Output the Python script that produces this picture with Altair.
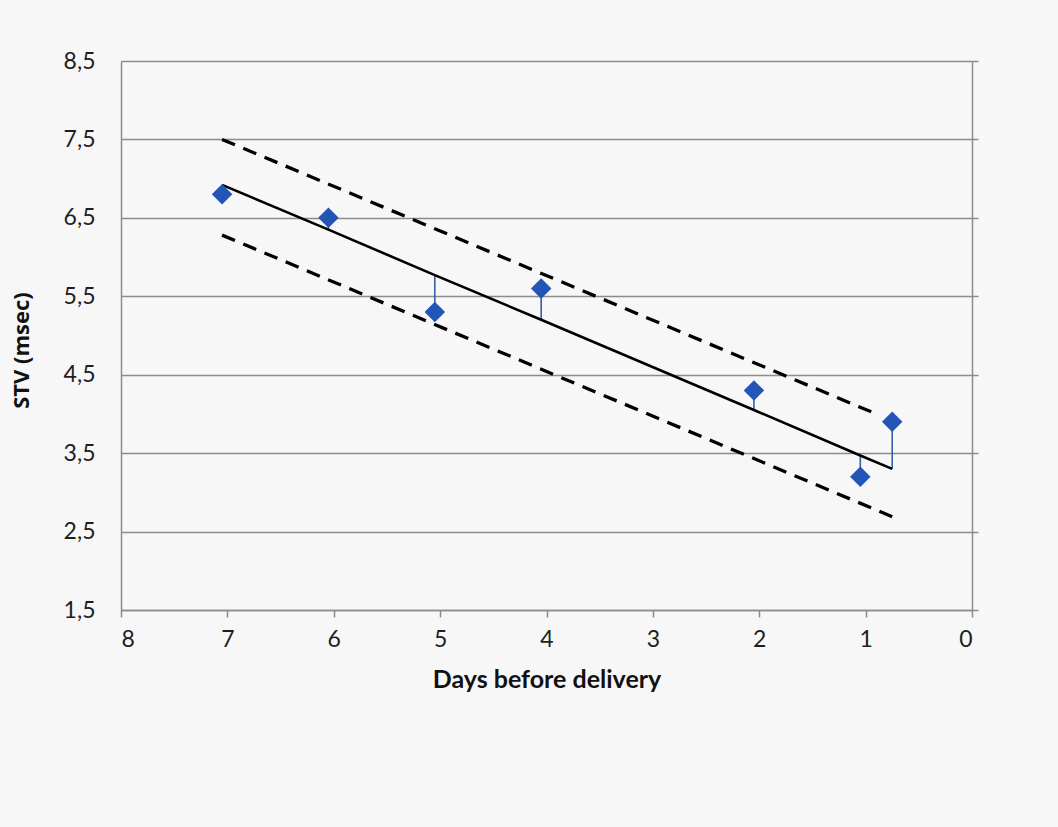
import altair as alt
import pandas as pd

# Data
days = [7.05, 6.05, 5.05, 4.05, 2.05, 1.05, 0.75]
stv = [6.8, 6.5, 5.3, 5.6, 4.3, 3.2, 3.9]
fitted = [6.92, 6.35, 5.77, 5.2, 4.05, 3.47, 3.30]

upper_days = [7.05, 0.9]
upper_stv = [7.5, 4.0]
lower_days = [7.05, 0.75]
lower_stv = [6.28, 2.69]

y_ticks = [1.5, 2.5, 3.5, 4.5, 5.5, 6.5, 7.5, 8.5]
x_ticks = [0, 1, 2, 3, 4, 5, 6, 7, 8]

pts = pd.DataFrame({"days": days, "stv": stv, "fit": fitted})
upper = pd.DataFrame({"days": upper_days, "stv": upper_stv})
lower = pd.DataFrame({"days": lower_days, "stv": lower_stv})

FONT = "Lato"
GRID = "#8c8c8c"
LABEL = "#1e1e1e"

xs = alt.Scale(domain=[8, 0], nice=False, zero=False)
ys = alt.Scale(domain=[1.5, 8.5], nice=False, zero=False)

x_axis = alt.Axis(
    values=x_ticks, title="Days before delivery", grid=False,
    domainColor=GRID, domainWidth=1.5, tickColor=GRID, tickWidth=1.5, tickSize=7,
    labelFont=FONT, labelFontSize=23, labelColor=LABEL, labelPadding=11,
    titleFont=FONT, titleFontSize=25, titleFontWeight="bold", titleColor="#111111",
    titleY=57, titleBaseline="top",
)
y_axis = alt.Axis(
    values=y_ticks, title="STV (msec)", grid=True, gridColor=GRID, gridWidth=1.5,
    ticks=False, domainColor=GRID, domainWidth=1.5,
    labelExpr="replace(format(datum.value, '.1f'), '.', ',')",
    labelFont=FONT, labelFontSize=23, labelColor=LABEL, labelPadding=26,
    titleFont="Open Sans", titleFontSize=22, titleFontWeight="bold", titleColor="#111111",
    titleX=-88, titleY=289, titleAngle=-90,
)
y_axis_right = alt.Axis(
    values=y_ticks, title=None, labels=False, grid=False, orient="right",
    domainColor=GRID, domainWidth=1.5, tickColor=GRID, tickWidth=1.5, tickSize=6,
)

residuals = alt.Chart(pts).mark_rule(color="#3a5ea8", strokeWidth=1.6).encode(
    x=alt.X("days:Q", scale=xs, axis=x_axis),
    y=alt.Y("stv:Q", scale=ys, axis=y_axis),
    y2="fit:Q",
)

fit_line = alt.Chart(pts).mark_line(color="#000000", strokeWidth=2.6).encode(
    x=alt.X("days:Q", scale=xs, axis=x_axis),
    y=alt.Y("fit:Q", scale=ys, axis=y_axis),
)

upper_line = alt.Chart(upper).mark_line(color="#000000", strokeWidth=3.3, strokeDash=[14, 9]).encode(
    x=alt.X("days:Q", scale=xs, axis=x_axis),
    y=alt.Y("stv:Q", scale=ys, axis=y_axis),
)
lower_line = alt.Chart(lower).mark_line(color="#000000", strokeWidth=3.3, strokeDash=[14, 9]).encode(
    x=alt.X("days:Q", scale=xs, axis=x_axis),
    y=alt.Y("stv:Q", scale=ys, axis=y_axis),
)

diamonds = alt.Chart(pts).mark_point(shape="diamond", filled=True, size=420,
                                     color="#2255b5", opacity=1).encode(
    x=alt.X("days:Q", scale=xs, axis=x_axis),
    y=alt.Y("stv:Q", scale=ys, axis=y_axis),
)

main = alt.layer(residuals, fit_line, upper_line, lower_line, diamonds)

right_frame = alt.Chart(pts).mark_point(opacity=0).encode(
    x=alt.X("days:Q", scale=xs, axis=x_axis),
    y=alt.Y("stv:Q", scale=ys, axis=y_axis_right),
)

chart = alt.layer(main, right_frame).resolve_scale(y="independent").properties(
    width=851, height=549,
    autosize=alt.AutoSizeParams(type="none"),
    padding={"left": 121, "top": 61, "right": 86, "bottom": 217},
    background="#f7f7f7",
).configure_view(stroke=None, fill="#f7f7f7")

chart.save("out.html", embed_options={"renderer": "svg", "actions": False})
